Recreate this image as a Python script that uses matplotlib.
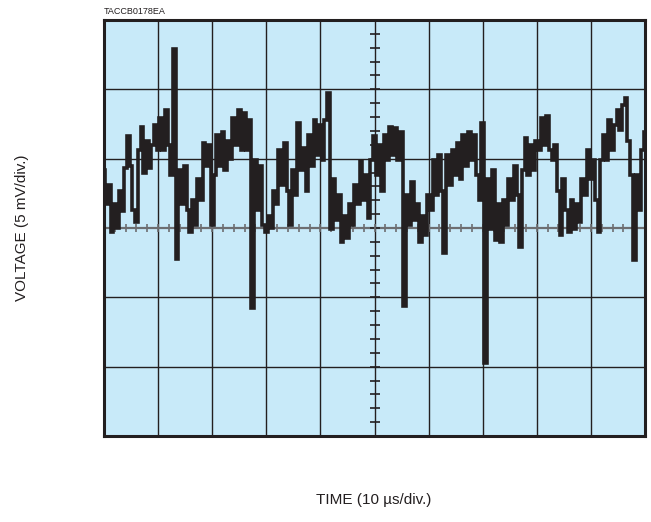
import numpy as np
import matplotlib
matplotlib.use("Agg")
import matplotlib.pyplot as plt

# Scope capture: 10 us/div horizontally, 5 mV/div vertically
US_PER_DIV = 10
MV_PER_DIV = 5
N_XDIV = 10
N_YDIV = 6
SAMPLE_US = 0.5

# Trace voltage (mV), one value every 0.5 us
trace_mv = [
    4.2, 1.7, 3.1, -0.3, 1.7, 0.0, 2.7, 1.2, 4.3, 6.6,
    4.5, 1.3, 0.4, 5.6, 7.3, 4.0, 6.3, 4.3, 6.0, 7.4,
    5.6, 7.9, 5.6, 8.5, 6.0, 3.8, 12.9, -2.2, 4.2, 1.7,
    4.5, 1.3, -0.3, 2.0, 0.2, 3.5, 2.0, 6.1, 4.5, 6.0,
    0.2, 3.8, 6.7, 4.5, 6.9, 4.2, 6.3, 5.0, 7.9, 6.0,
    8.5, 5.6, 8.3, 5.6, 7.8, -5.8, 4.9, 1.3, 4.5, 0.2,
    -0.3, 0.9, 0.0, 2.7, 1.7, 5.6, 3.1, 6.1, 2.7, 0.2,
    4.2, 2.4, 7.6, 4.2, 5.8, 2.7, 6.7, 4.5, 7.8, 5.3,
    7.4, 4.9, 7.8, 9.7, -0.1, 3.5, 0.6, 2.4, -1.0, 0.9,
    -0.7, 1.7, 0.2, 3.1, 1.7, 4.8, 2.0, 3.8, 0.7, 4.9,
    6.6, 3.8, 6.0, 2.7, 6.7, 4.9, 7.3, 5.3, 7.2, 4.9,
    6.9, -5.6, 2.4, 0.2, 3.3, 0.6, 1.7, -1.0, 0.9, -0.5,
    2.4, 1.3, 4.9, 2.4, 5.3, 2.7, -1.8, 5.3, 3.1, 5.6,
    3.8, 6.1, 3.5, 6.7, 4.5, 6.9, 4.9, 6.7, 3.8, 2.0,
    7.6, -9.7, 3.5, -0.1, 4.2, -0.9, 1.7, -1.0, 2.0, 0.2,
    3.5, 2.0, 4.5, 2.4, -1.4, 4.2, 6.5, 3.8, 6.0, 4.2,
    6.3, 5.6, 7.9, 6.0, 8.1, 5.6, 4.9, 6.0, 2.7, -0.5,
    3.5, 1.3, -0.3, 2.0, -0.1, 1.7, 0.4, 3.5, 2.4, 5.6,
    3.5, 4.9, 2.0, -0.3, 4.9, 6.7, 4.9, 7.8, 5.6, 7.4,
    8.5, 7.1, 8.9, 9.4, 6.3, 3.8, -2.3, 3.8, 1.3, 5.6,
    6.9,
]
time_us = np.arange(len(trace_mv)) * SAMPLE_US

INK = "#231f20"
GRAY = "#6d6e71"
SCREEN = "#c8eaf9"

fig = plt.figure(figsize=(6.51, 5.22), dpi=100)
ax = fig.add_axes([104 / 651, 1 - 436 / 522, 541 / 651, 416 / 522])
ax.set_facecolor(SCREEN)

x_max = N_XDIV * US_PER_DIV
y_half = N_YDIV / 2 * MV_PER_DIV
ax.set_xlim(0, x_max)
ax.set_ylim(-y_half, y_half)

# graticule
for k in range(1, N_XDIV):
    ax.axvline(k * US_PER_DIV, color=INK, lw=1.0, zorder=1)
for k in range(1, N_YDIV):
    y = -y_half + k * MV_PER_DIV
    if y == 0:
        continue
    ax.axhline(y, color=INK, lw=1.0, zorder=1)
ax.axhline(0, color=GRAY, lw=1.6, zorder=1)

# minor ticks on the centre crosshair (5 per division)
yt = np.arange(-y_half, y_half + 1e-9, MV_PER_DIV / 5)
ax.plot(np.full(len(yt), x_max / 2), yt, ls="none", marker="_",
        ms=6.5, mew=1.2, color=INK, zorder=1)
xt = np.arange(0, x_max + 1e-9, US_PER_DIV / 5)
ax.plot(xt, np.zeros(len(xt)), ls="none", marker="|",
        ms=6, mew=1.2, color=GRAY, zorder=1)

# trace, drawn as a sampled (stepped) display like the scope screen
ax.plot(time_us, trace_mv, color=INK, lw=2.6, drawstyle="steps-mid",
        solid_joinstyle="miter", zorder=3)

ax.set_xticks([])
ax.set_yticks([])
for s in ax.spines.values():
    s.set_linewidth(2.2)
    s.set_color(INK)

font = ["Liberation Sans", "DejaVu Sans"]
fig.text(104 / 651, 1 - 12 / 522, "TACCB0178EA", fontsize=6.5,
         family=font, color=INK, va="center", ha="left")
fig.text(22 / 651, 1 - 228 / 522, "VOLTAGE (5 mV/div.)", fontsize=11,
         family=font, color=INK, rotation=90, va="center", ha="center")
fig.text(374 / 651, 1 - 500 / 522, "TIME (10 \u00b5s/div.)", fontsize=11,
         family=font, color=INK, va="center", ha="center")

fig.savefig("out.png", dpi=100)
